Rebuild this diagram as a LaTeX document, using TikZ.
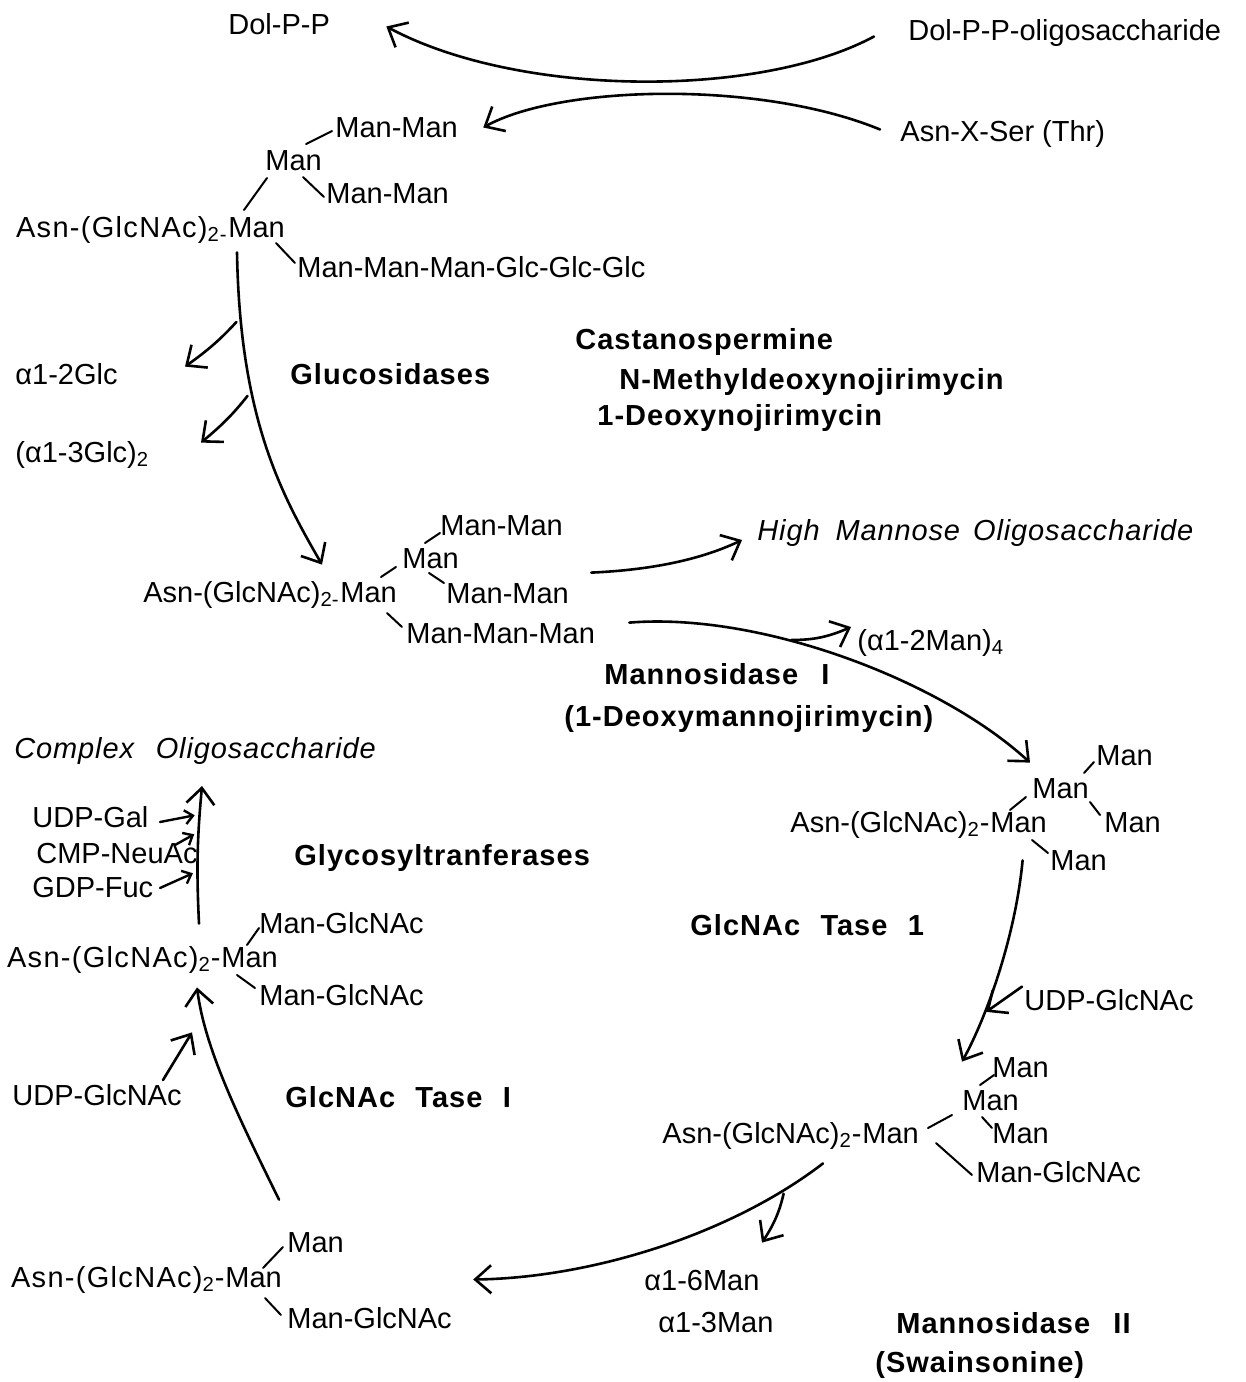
\documentclass[tikz,border=0pt]{standalone}
\usepackage{fontspec}
\setmainfont{Liberation Sans}
\newfontfamily\enzfont[LetterSpace=3.5]{Liberation Sans}
\newfontfamily\widefont[LetterSpace=4.5]{Liberation Sans}
\newfontfamily\prodfont[LetterSpace=3]{Liberation Sans}
\usetikzlibrary{arrows.meta}

\begin{document}
\begin{tikzpicture}[x=0.5pt, y=-0.5pt,
    sugar/.style={font=\fontsize{14.5}{17}\selectfont, inner sep=0pt, anchor=base west,
      text height=10.5pt, text depth=3pt},
    widesugar/.style={sugar, font=\widefont\fontsize{14.5}{17}\selectfont},
    enzyme/.style={sugar, font=\enzfont\bfseries\fontsize{14.5}{17}\selectfont},
    product/.style={sugar, font=\prodfont\itshape\fontsize{14.5}{17}\selectfont},
    bond/.style={line width=1pt, line cap=round},
    flow/.style={-{Straight Barb[length=8pt,width=14pt]}, line width=1.3pt, line cap=round},
    feed/.style={-{Straight Barb[length=4pt,width=7pt]}, line width=1.2pt, line cap=round}
  ]
    \useasboundingbox (0,0) rectangle (1246,1382);

    \node[sugar] (dolpp) at (228,34) {Dol-P-P};
    \node[sugar] (oligo) at (908,40) {Dol-P-P-oligosaccharide};
    \node[sugar] (asnx) at (900,141) {Asn-X-Ser (Thr)};

    \node[sugar] (mmA1) at (335,137) {Man-Man};
    \node[sugar] (manAm) at (265,170) {Man};
    \node[sugar] (mmA2) at (326,203) {Man-Man};
    \node[sugar] (manA) at (228,237) {Man};
    \node[widesugar, anchor=base east] (asnA) at (manA.base west) {Asn-(GlcNAc)\textsubscript{2-}};
    \node[sugar] (longA) at (297,277) {Man-Man-Man-Glc-Glc-Glc};
    \draw[bond] ([shift={(16,-27)}]manA.base west) -- ([shift={(2,8)}]manAm.base west);
    \draw[bond] ([shift={(41,-26)}]manAm.base west) -- ([shift={(-3,-6)}]mmA1.base west);
    \draw[bond] ([shift={(38,7)}]manAm.base west) -- ([shift={(-2,-6)}]mmA2.base west);
    \draw[bond] ([shift={(48,6)}]manA.base west) -- ([shift={(-2,-14)}]longA.base west);

    \node[sugar] (aglc) at (15,384) {α1-2Glc};
    \node[sugar] (a3glc) at (15,462) {(α1-3Glc)\textsubscript{2}};
    \node[enzyme] (glucos) at (290,384) {Glucosidases};
    \node[enzyme] (cast) at (575,349) {Castanospermine};
    \node[enzyme] (nmdnj) at (619,389) {N-Methyldeoxynojirimycin};
    \node[enzyme] (dnj) at (597,425) {1-Deoxynojirimycin};

    \node[sugar] (mmB1) at (440,535) {Man-Man};
    \node[sugar] (manBm) at (402,568) {Man};
    \node[sugar] (mmB2) at (446,603) {Man-Man};
    \node[sugar] (manB) at (340,602) {Man};
    \node[sugar, anchor=base east] (asnB) at (manB.base west) {Asn-(GlcNAc)\textsubscript{2-}};
    \node[sugar] (mmmB) at (406,643) {Man-Man-Man};
    \draw[bond] ([shift={(41,-25)}]manB.base west) -- ([shift={(-6,-1)}]manBm.base west);
    \draw[bond] ([shift={(23,-25)}]manBm.base west) -- ([shift={(0,-2)}]mmB1.base west);
    \draw[bond] ([shift={(27,5)}]manBm.base west) -- ([shift={(-2,-20)}]mmB2.base west);
    \draw[bond] ([shift={(47,11)}]manB.base west) -- ([shift={(-4,-16)}]mmmB.base west);

    \node[product] (highman) at (757,540) {High\hspace{0.55em}Mannose\hspace{0.45em}Oligosaccharide};
    \node[sugar] (a2man) at (857,650) {(α1-2Man)\textsubscript{4}};
    \node[enzyme] (mani) at (604,684) {Mannosidase\hspace{0.8em}I};
    \node[enzyme] (dmj) at (564,726) {(1-Deoxymannojirimycin)};

    \node[sugar] (manCt) at (1096,765) {Man};
    \node[sugar] (manCm) at (1032,798) {Man};
    \node[sugar] (manCr) at (1104,832) {Man};
    \node[sugar] (manC) at (990,832) {Man};
    \node[sugar, anchor=base east] (asnC) at (manC.base west) {Asn-(GlcNAc)\textsubscript{2}-};
    \node[sugar] (manCb) at (1050,870) {Man};
    \draw[bond] ([shift={(20,-22)}]manC.base west) -- ([shift={(-6,-1)}]manCm.base west);
    \draw[bond] ([shift={(52,-25)}]manCm.base west) -- ([shift={(-2,-3)}]manCt.base west);
    \draw[bond] ([shift={(58,4)}]manCm.base west) -- ([shift={(-4,-17)}]manCr.base west);
    \draw[bond] ([shift={(42,8)}]manC.base west) -- ([shift={(-2,-17)}]manCb.base west);

    \node[enzyme] (tase1) at (690,935) {GlcNAc\hspace{0.7em}Tase\hspace{0.7em}1};
    \node[sugar] (udpC) at (1024,1010) {UDP-GlcNAc};

    \node[sugar] (manDt) at (992,1077) {Man};
    \node[sugar] (manDm) at (962,1110) {Man};
    \node[sugar] (manDr) at (992,1143) {Man};
    \node[sugar] (manD) at (862,1143) {Man};
    \node[sugar, anchor=base east] (asnD) at (manD.base west) {Asn-(GlcNAc)\textsubscript{2}-};
    \node[sugar] (mgD) at (976,1182) {Man-GlcNAc};
    \draw[bond] ([shift={(66,-15)}]manD.base west) -- ([shift={(-10,5)}]manDm.base west);
    \draw[bond] ([shift={(18,-25)}]manDm.base west) -- ([shift={(2,-2)}]manDt.base west);
    \draw[bond] ([shift={(20,7)}]manDm.base west) -- ([shift={(0,-15)}]manDr.base west);
    \draw[bond] ([shift={(74,0)}]manD.base west) -- ([shift={(-4,-7)}]mgD.base west);

    \node[sugar] (a6man) at (644,1290) {α1-6Man};
    \node[sugar] (a3man) at (658,1332) {α1-3Man};
    \node[enzyme] (manii) at (896,1333) {Mannosidase\hspace{0.8em}II};
    \node[enzyme] (swain) at (875,1372) {(Swainsonine)};

    \node[sugar] (manEt) at (287,1252) {Man};
    \node[sugar] (manE) at (225,1287) {Man};
    \node[widesugar, anchor=base east] (asnE) at (manE.base west) {Asn-(GlcNAc)\textsubscript{2}-};
    \node[sugar] (mgE) at (287,1328) {Man-GlcNAc};
    \draw[bond] ([shift={(38,-19)}]manE.base west) -- ([shift={(-4,-5)}]manEt.base west);
    \draw[bond] ([shift={(40,11)}]manE.base west) -- ([shift={(-6,-13)}]mgE.base west);
    \node[sugar] (udpE) at (12,1105) {UDP-GlcNAc};
    \node[enzyme] (tasei) at (285,1107) {GlcNAc\hspace{0.7em}Tase\hspace{0.7em}I};

    \node[sugar] (mgF1) at (259,933) {Man-GlcNAc};
    \node[sugar] (manF) at (221,967) {Man};
    \node[widesugar, anchor=base east] (asnF) at (manF.base west) {Asn-(GlcNAc)\textsubscript{2}-};
    \node[sugar] (mgF2) at (259,1005) {Man-GlcNAc};
    \draw[bond] ([shift={(26,-22)}]manF.base west) -- ([shift={(0,-5)}]mgF1.base west);
    \draw[bond] ([shift={(16,8)}]manF.base west) -- ([shift={(-4,-17)}]mgF2.base west);
    \node[enzyme] (glyco) at (294,865) {Glycosyltranferases};
    \node[product] (complex) at (14,758) {Complex\hspace{0.75em}Oligosaccharide};
    \node[sugar] (udpgal) at (32,827) {UDP-Gal};
    \node[sugar] (cmp) at (36,863) {CMP-NeuAc};
    \node[sugar] (gdp) at (32,897) {GDP-Fuc};

    % pathway arrows
    \draw[flow] ([shift={(-34,4)}]oligo.west) .. controls (760,98) and (520,98) .. ([shift={(56,0)}]dolpp.east);
    \draw[flow] ([shift={(-20,-4)}]asnx.west) .. controls (760,80) and (560,85) .. ([shift={(25,-2)}]mmA1.east);
    \draw[flow] ([shift={(9,9)}]manA.south west) .. controls (240,420) and (282,495) .. ([shift={(-18,-16)}]manB.north west)
      coordinate[pos=0.14] (g1) coordinate[pos=0.33] (g2);
    \draw[flow, shorten <=3pt] (g1) to[bend left=6] ([shift={(170,4)}]aglc.north west);
    \draw[flow, shorten <=3pt] (g2) to[bend left=6] ([shift={(186,2)}]a3glc.north west);
    \draw[flow] ([shift={(22,-9)}]mmB2.north east) .. controls (650,570) and (700,560) .. ([shift={(-15,0)}]highman.base west);
    \draw[flow] ([shift={(34,1)}]mmmB.north east) .. controls (760,612) and (940,680) .. ([shift={(-2,-14)}]manCm.north west)
      coordinate[pos=0.37] (g3);
    \draw[flow, shorten <=2pt] (g3) to[bend right=12] ([shift={(-6,-23)}]a2man.base west);
    \draw[flow] ([shift={(4,22)}]manC.south) .. controls (1015,940) and (985,1020) .. ([shift={(0,-27)}]manDm.north west)
      coordinate[pos=0.69] (g4);
    \draw[flow, shorten >=1pt] ([shift={(-2,-2)}]udpC.north west) -- (g4);
    \draw[flow] ([shift={(-39,14)}]manD.south west) .. controls (730,1235) and (590,1278) .. ([shift={(191,0)}]manE.east)
      coordinate[pos=0.13] (g5);
    \draw[flow, shorten <=2pt] (g5) to[bend left=10] ([shift={(118,-26)}]a6man.north west);
    \draw[flow] ([shift={(-8,-31)}]manEt.north west) .. controls (240,1120) and (205,1050) .. ([shift={(-24,14)}]manF.south west);
    \draw[flow] ([shift={(151,-25)}]udpE.base west) -- ([shift={(-29,59)}]manF.south west);
    \draw[flow] ([shift={(-22,-22)}]manF.north west) to[bend left=4]
      coordinate[pos=0.37] (f3) coordinate[pos=0.68] (f2) coordinate[pos=0.81] (f1)
      ([shift={(188,28)}]complex.base west);
    \draw[feed, shorten >=2.5pt] ([shift={(128,-5)}]udpgal.base west) -- (f1);
    \draw[feed, shorten >=2.5pt] ([shift={(139,-18)}]cmp.base west) -- (f2);
    \draw[feed, shorten >=2.5pt] ([shift={(128,-9)}]gdp.base west) -- (f3);
\end{tikzpicture}
\end{document}
